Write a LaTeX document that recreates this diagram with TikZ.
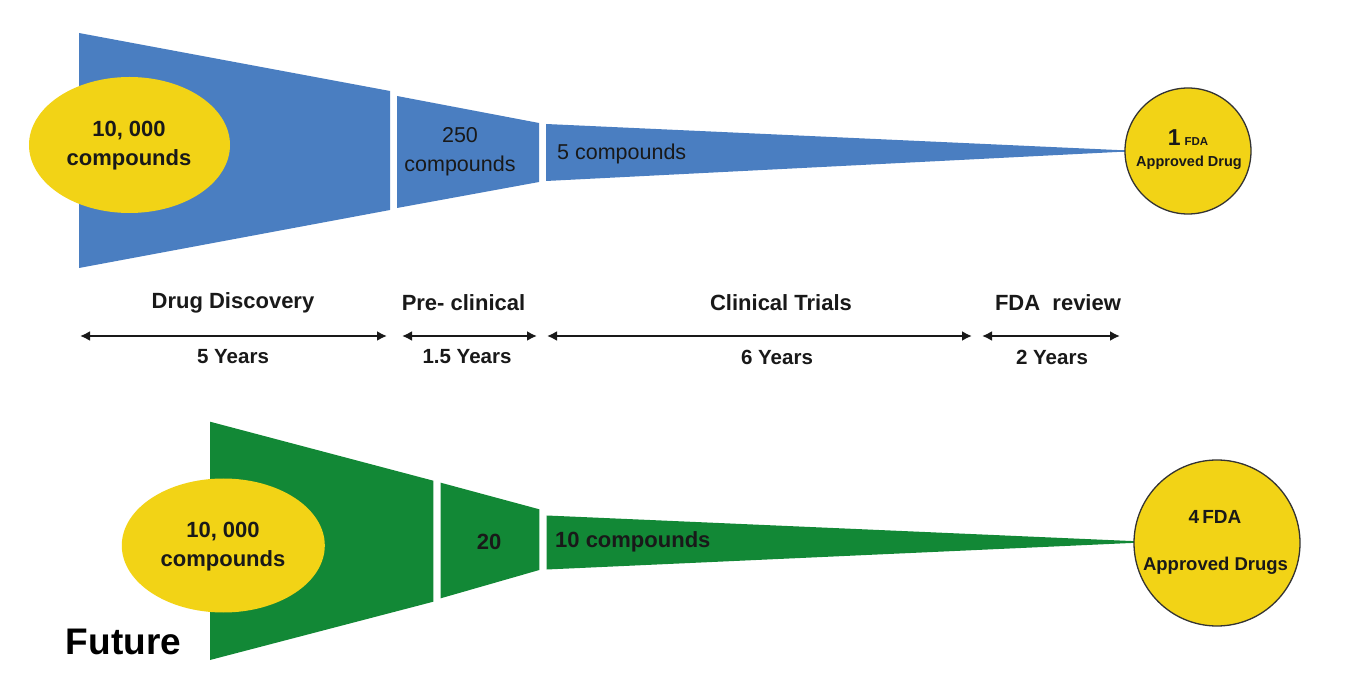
\documentclass[tikz,border=0pt]{standalone}
\usepackage{fontspec}
\setmainfont{Liberation Sans}
\usetikzlibrary{arrows.meta,shapes.geometric}
\definecolor{fblue}{RGB}{74,126,193}
\definecolor{fgreen}{RGB}{18,136,54}
\definecolor{fyel}{RGB}{242,211,22}
\definecolor{ink}{RGB}{25,25,25}
\begin{document}
\begin{tikzpicture}[x=1pt,y=-1pt,
  bt/.style={inner sep=0pt, text=ink, font=\fontsize{22}{29}\selectfont\bfseries, align=center},
  rt/.style={inner sep=0pt, text=ink, font=\fontsize{21.5}{29}\selectfont, align=center},
  lab/.style={inner sep=0pt, text=ink, font=\fontsize{22}{26}\selectfont\bfseries},
  yr/.style={inner sep=0pt, text=ink, font=\fontsize{20.5}{24}\selectfont\bfseries},
  span/.style={line width=2.6pt, draw=ink, {Latex[length=10pt,width=10pt]}-{Latex[length=10pt,width=10pt]}},
  pill/.style={ellipse, fill=fyel, inner sep=0pt},
  disc/.style={circle, fill=fyel, draw=black!80, line width=1.3pt, inner sep=0pt},
]
\useasboundingbox (0,0) rectangle (1345,700);
\fill[white] (0,0) rectangle (1345,700);

% ---------- top funnel ----------
\fill[fblue] (79,33) -- (390,91) -- (390,210) -- (79,268) -- cycle;
\fill[fblue] (397,96) -- (539,123) -- (539,182) -- (397,208) -- cycle;
\fill[fblue] (546,124) -- (1117,150) -- (1117,152) -- (546,181) -- cycle;
\draw[fblue, line width=1.2pt] (1116,151) -- (1126,151);

\node[pill, minimum width=201pt, minimum height=136pt] (e1) at (129.5,145) {};
\node[bt] (e1t) at (129,146) {10, 000\\compounds};
\node[rt] (s2t) at (460,152) {250\\compounds};
\node[rt, anchor=west] (s3t) at (557,154) {5 compounds};

\node[disc, minimum size=126pt] (c1) at (1188,151) {};
\node[inner sep=0pt, text=ink, font=\bfseries] (c1a) at (1188,138)
  {\fontsize{23}{23}\selectfont 1\,\fontsize{11.5}{12}\selectfont FDA};
\node[inner sep=0pt, text=ink, font=\fontsize{14.5}{16}\selectfont\bfseries] (c1b) at (1189,163) {Approved Drug};

% ---------- timeline ----------
\coordinate (a1l) at (80,336);  \coordinate (a1r) at (387,336);
\coordinate (a2l) at (402,336); \coordinate (a2r) at (537,336);
\coordinate (a3l) at (547,336); \coordinate (a3r) at (972,336);
\coordinate (a4l) at (982,336); \coordinate (a4r) at (1120,336);
\draw[span] (a1l) -- (a1r);
\draw[span] (a2l) -- (a2r);
\draw[span] (a3l) -- (a3r);
\draw[span] (a4l) -- (a4r);

\node[lab] (l1) at (233,303) {Drug Discovery};
\node[lab] (l2) at (463.5,303) {Pre- clinical};
\node[lab] (l3) at (781,303) {Clinical Trials};
\node[lab] (l4) at (1058,303) {FDA\ \ review};

\node[yr] (y1) at (233,357) {5 Years};
\node[yr] (y2) at (467,357) {1.5 Years};
\node[yr] (y3) at (777,357) {6 Years};
\node[yr] (y4) at (1052,357) {2 Years};

% ---------- bottom funnel ----------
\fill[fgreen] (210,421.7) -- (433.3,480.7) -- (433.3,601.7) -- (210,660) -- cycle;
\fill[fgreen] (440.7,482.7) -- (539.3,509.3) -- (539.3,570) -- (440.7,598.3) -- cycle;
\fill[fgreen] (546.7,515.5) -- (1131,541) -- (1131,543) -- (546.7,569.5) -- cycle;
\draw[fgreen, line width=1.2pt] (1130,542) -- (1136,542);

\node[pill, minimum width=203pt, minimum height=134pt] (e2) at (223.3,545.5) {};
\node[bt] (e2t) at (223,547) {10, 000\\compounds};
\node[bt] (g2t) at (489,541.7) {20};
\node[bt, anchor=west] (g3t) at (555,541.7) {10 compounds};

\node[disc, minimum size=166pt] (c2) at (1217,543) {};
\node[inner sep=0pt, text=ink, font=\fontsize{19}{20}\selectfont\bfseries] (c2a) at (1215,516.7) {4\,FDA};
\node[inner sep=0pt, text=ink, font=\fontsize{18.5}{20}\selectfont\bfseries] (c2b) at (1215.5,566) {Approved Drugs};

\node[inner sep=0pt, text=black, font=\fontsize{37}{40}\selectfont\bfseries] (fut) at (123.5,642) {Future};
\end{tikzpicture}
\end{document}
